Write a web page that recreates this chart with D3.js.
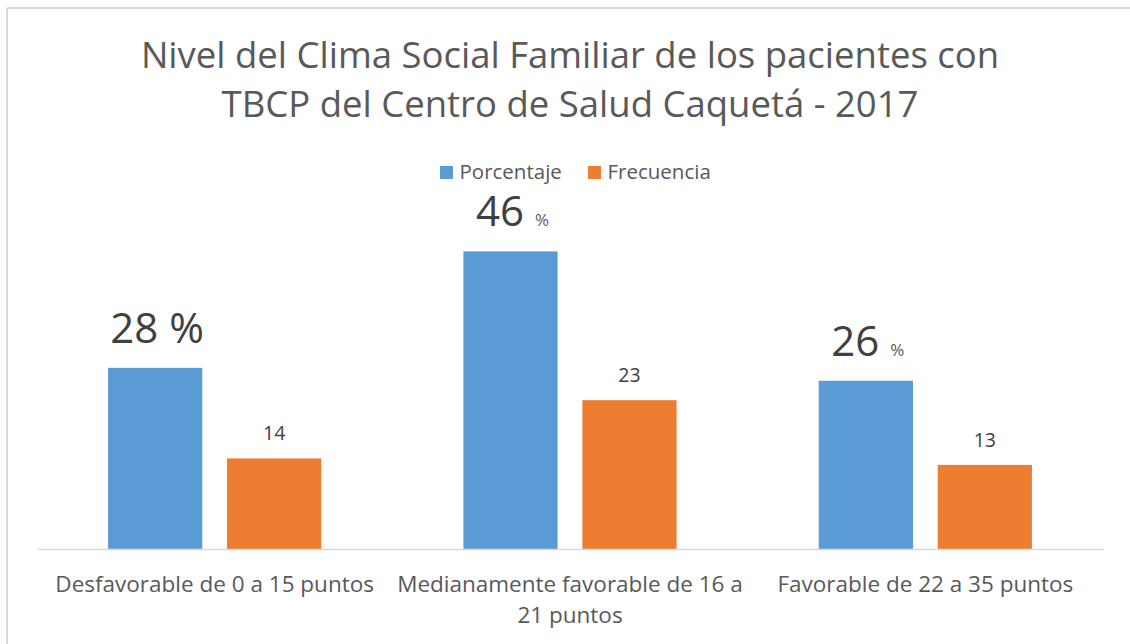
<!DOCTYPE html>
<html>
<head>
<meta charset="utf-8">
<script src="https://cdn.jsdelivr.net/npm/d3@7"></script>
<style>
  body { margin: 0; background: #fff; }
  text { font-family: "Open Sans", "Noto Sans", sans-serif; }
</style>
</head>
<body>
<script>
// data
const categories = ["Desfavorable de 0 a 15 puntos", "Medianamente favorable de 16 a 21 puntos", "Favorable de 22 a 35 puntos"];
const categoryLines = [["Desfavorable de 0 a 15 puntos"], ["Medianamente favorable de 16 a", "21 puntos"], ["Favorable de 22 a 35 puntos"]];
const seriesNames = ["Porcentaje", "Frecuencia"];
const porcentaje = [28, 46, 26];
const frecuencia = [14, 23, 13];
const pctSmallSign = [false, true, true];
const titleLines = ["Nivel del Clima Social Familiar de los pacientes con", "TBCP del Centro de Salud Caquetá - 2017"];
const colors = ["#5B9BD5", "#ED7D31"];

const width = 1130, height = 644;
const svg = d3.select("body").append("svg")
  .attr("width", width)
  .attr("height", height);

// chart area frame (top and left edges visible)
svg.append("line").attr("x1", 7).attr("x2", width).attr("y1", 8).attr("y2", 8)
  .attr("stroke", "#d9d9d9").attr("stroke-width", 2);
svg.append("line").attr("x1", 7).attr("x2", 7).attr("y1", 8).attr("y2", height)
  .attr("stroke", "#d9d9d9").attr("stroke-width", 2);

// title
svg.append("g").selectAll("text")
  .data(titleLines)
  .join("text")
  .attr("x", 570)
  .attr("y", (d, i) => 68 + i * 49)
  .attr("text-anchor", "middle")
  .attr("font-size", 36.5)
  .attr("fill", "#595959")
  .text(d => d);

// legend
const legendX = [440, 588];
const legend = svg.append("g").selectAll("g")
  .data(seriesNames)
  .join("g")
  .attr("transform", (d, i) => "translate(" + legendX[i] + ",166)");
legend.append("rect").attr("width", 13).attr("height", 13).attr("fill", (d, i) => colors[i]);
legend.append("text").attr("x", 19.5).attr("y", 13).attr("font-size", 20.5)
  .attr("fill", "#595959").text(d => d);

// scales
const x0 = d3.scaleBand().domain(categories).range([37, 1103])
  .paddingInner(0.4).paddingOuter(0.2);
const x1 = d3.scaleBand().domain(seriesNames).range([0, x0.bandwidth()])
  .paddingInner(0.208);
const y = d3.scaleLinear().domain([0, 50]).range([549, 225.5]);

const rows = categories.map((c, i) => ({ cat: c, vals: [porcentaje[i], frecuencia[i]], i: i }));

const groups = svg.append("g").selectAll("g")
  .data(rows)
  .join("g")
  .attr("transform", d => "translate(" + x0(d.cat) + ",0)");

groups.selectAll("rect")
  .data(d => d.vals.map((v, k) => ({ key: seriesNames[k], v: v, k: k })))
  .join("rect")
  .attr("x", d => x1(d.key))
  .attr("y", d => y(d.v))
  .attr("width", x1.bandwidth())
  .attr("height", d => y(0) - y(d.v))
  .attr("fill", d => colors[d.k]);

// porcentaje labels
groups.append("text")
  .attr("x", x1("Porcentaje") + x1.bandwidth() / 2 + 2)
  .attr("y", d => y(d.vals[0]) - 25)
  .attr("text-anchor", "middle")
  .attr("fill", "#404040")
  .attr("font-size", 42)
  .each(function(d) {
    const t = d3.select(this);
    t.append("tspan").text(d.vals[0] + " ");
    t.append("tspan")
      .attr("font-size", pctSmallSign[d.i] ? 17 : 42)
      .attr("fill", pctSmallSign[d.i] ? "#595959" : "#404040")
      .text("%");
  });

// frecuencia labels
groups.append("text")
  .attr("x", x1("Frecuencia") + x1.bandwidth() / 2)
  .attr("y", d => y(d.vals[1]) - 18)
  .attr("text-anchor", "middle")
  .attr("fill", "#404040")
  .attr("font-size", 19.5)
  .text(d => d.vals[1]);

// axis line
const xAxis = svg.append("g")
  .attr("transform", "translate(0," + y(0) + ")")
  .call(d3.axisBottom(x0).tickSize(0).tickFormat(""));
xAxis.select(".domain").attr("stroke", "#d9d9d9").attr("stroke-width", 1.5);

// category labels
svg.append("g").selectAll("text")
  .data(rows)
  .join("text")
  .attr("x", d => x0(d.cat) + x0.bandwidth() / 2)
  .attr("y", 592)
  .attr("text-anchor", "middle")
  .attr("font-size", 22.5)
  .attr("fill", "#595959")
  .each(function(d) {
    d3.select(this).selectAll("tspan")
      .data(categoryLines[d.i])
      .join("tspan")
      .attr("x", x0(d.cat) + x0.bandwidth() / 2)
      .attr("dy", (l, j) => j === 0 ? 0 : 31)
      .text(l => l);
  });
</script>
</body>
</html>
